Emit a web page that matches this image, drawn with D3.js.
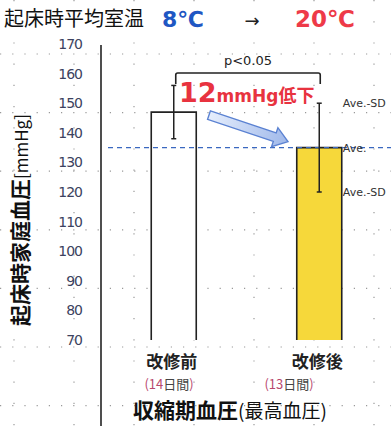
<!DOCTYPE html>
<html>
<head>
<meta charset="utf-8">
<script src="https://cdn.jsdelivr.net/npm/d3@7"></script>
<style>
  body { margin: 0; background: #fff; }
  text { font-family: "Noto Sans CJK JP", "Noto Sans", sans-serif; }
</style>
</head>
<body>
<div id="chart"></div>
<script>
// data
var groups = ["改修前", "改修後"];
var periodDays = ["14", "13"];
var means = [147, 135];
var sds = [9, 15];
var yTicks = [70, 80, 90, 100, 110, 120, 130, 140, 150, 160, 170];
var tempBefore = "8℃";
var tempAfter = "20℃";

function init() {
    var w = 391;
    var h = 426;

    var svg = d3.select("#chart")
                .append("svg")
                .attr("width", w)
                .attr("height", h);

    var y = d3.scaleLinear()
              .domain([70, 170])
              .range([340, 44]);

    var x = d3.scalePoint()
              .domain(groups)
              .range([101, 392])
              .padding(0.5);

    var barW = 45;

    // background paper grid (dotted)
    var grid = svg.append("g");
    for (var gx = 14; gx < w; gx += 60) {
        grid.append("line")
            .attr("x1", gx).attr("x2", gx)
            .attr("y1", 0).attr("y2", h)
            .style("stroke", "#999")
            .style("stroke-width", 1.2)
            .style("stroke-dasharray", "1.2,20");
    }
    for (var gy = 54; gy < h; gy += 58.6) {
        grid.append("line")
            .attr("x1", 0).attr("x2", w)
            .attr("y1", gy).attr("y2", gy)
            .style("stroke", "#999")
            .style("stroke-width", 1.2)
            .style("stroke-dasharray", "1.2,11");
    }

    // y axis
    var yAxis = d3.axisLeft(y)
                  .tickValues(yTicks)
                  .tickSize(0)
                  .tickPadding(19);
    var ag = svg.append("g")
                .attr("transform", "translate(101,0)")
                .call(yAxis);
    ag.select(".domain").remove();
    ag.selectAll("text")
      .style("font-family", "'DejaVu Sans', sans-serif")
      .style("font-size", "14px")
      .style("fill", "#3c4260")
      .style("letter-spacing", "-1px");

    svg.append("line")
       .attr("x1", 101).attr("x2", 101)
       .attr("y1", 45).attr("y2", h)
       .style("stroke", "#222")
       .style("stroke-width", 1.6);

    // bars (fill, then top and side edges)
    var barColors = ["#ffffff", "#f6d83a"];
    var bars = svg.selectAll("g.bar")
                  .data(means)
                  .enter()
                  .append("g");
    bars.append("rect")
        .attr("x", function(d, i) { return x(groups[i]) - barW / 2; })
        .attr("y", function(d) { return y(d); })
        .attr("width", barW)
        .attr("height", function(d) { return y(70) - y(d); })
        .style("fill", function(d, i) { return barColors[i]; });
    bars.append("path")
        .attr("d", function(d, i) {
            var l = x(groups[i]) - barW / 2, r = l + barW;
            return "M" + l + "," + y(70) + " L" + l + "," + y(d) +
                   " L" + r + "," + y(d) + " L" + r + "," + y(70);
        })
        .style("fill", "none")
        .style("stroke", "#222")
        .style("stroke-width", 1.6);

    // average dashed line
    svg.append("line")
       .attr("x1", 108).attr("x2", w)
       .attr("y1", y(means[1])).attr("y2", y(means[1]))
       .style("stroke", "#3a68c0")
       .style("stroke-width", 1.2)
       .style("stroke-dasharray", "5,4");

    // error bars
    var eb = svg.selectAll("g.err")
                .data(means)
                .enter()
                .append("g");
    eb.append("line")
      .attr("x1", function(d, i) { return x(groups[i]); })
      .attr("x2", function(d, i) { return x(groups[i]); })
      .attr("y1", function(d, i) { return y(d + sds[i]); })
      .attr("y2", function(d, i) { return y(d - sds[i]); })
      .style("stroke", "#222")
      .style("stroke-width", 1.5);
    [1, -1].forEach(function(s) {
        eb.append("line")
          .attr("x1", function(d, i) { return x(groups[i]) - 2.5; })
          .attr("x2", function(d, i) { return x(groups[i]) + 2.5; })
          .attr("y1", function(d, i) { return y(d + s * sds[i]); })
          .attr("y2", function(d, i) { return y(d + s * sds[i]); })
          .style("stroke", "#222")
          .style("stroke-width", 1.5);
    });

    // Ave labels
    var aveX = x(groups[1]) + barW / 2 + 1;
    var aveLabels = [["Ave.-SD", means[1] + sds[1]], ["Ave.", means[1]], ["Ave.-SD", means[1] - sds[1]]];
    svg.selectAll("text.ave")
       .data(aveLabels)
       .enter()
       .append("text")
       .attr("x", aveX)
       .attr("y", function(d) { return y(d[1]) + 4; })
       .text(function(d) { return d[0]; })
       .style("font-family", "'DejaVu Sans', sans-serif")
       .style("font-size", "11px")
       .style("fill", "#333");

    // significance bracket
    var bx1 = x(groups[0]) + 2, bx2 = x(groups[1]) + 1, by = 73;
    svg.append("path")
       .attr("d", "M" + bx1 + "," + (by + 11) + " L" + bx1 + "," + (by + 2) +
                  " Q" + bx1 + "," + by + " " + (bx1 + 2) + "," + by +
                  " L" + (bx2 - 2) + "," + by +
                  " Q" + bx2 + "," + by + " " + bx2 + "," + (by + 2) +
                  " L" + bx2 + "," + (by + 11))
       .style("fill", "none")
       .style("stroke", "#222")
       .style("stroke-width", 1.6);
    svg.append("text")
       .attr("x", (bx1 + bx2) / 2)
       .attr("y", 65)
       .attr("text-anchor", "middle")
       .text("p<0.05")
       .style("font-family", "'DejaVu Sans', sans-serif")
       .style("font-size", "13px")
       .style("fill", "#222");

    // difference label
    var diff = svg.append("text")
                  .attr("x", 179)
                  .attr("y", 102)
                  .style("fill", "#e8333f")
                  .style("font-weight", "bold");
    diff.append("tspan").text(means[0] - means[1]).style("font-size", "27px")
        .style("font-family", "'DejaVu Sans', sans-serif");
    diff.append("tspan").text("mmHg").style("font-size", "17px")
        .style("font-family", "'DejaVu Sans', sans-serif");
    diff.append("tspan").text("低下").style("font-size", "18px");

    // arrow
    var defs = svg.append("defs");
    var grad = defs.append("linearGradient")
                   .attr("id", "ag")
                   .attr("x1", "0").attr("y1", "0").attr("x2", "1").attr("y2", "0");
    grad.append("stop").attr("offset", "0").attr("stop-color", "#e6eefc");
    grad.append("stop").attr("offset", "1").attr("stop-color", "#9fb8ea");
    var ax0 = 209, ay0 = y(means[0]) + 3, ax1 = 288, ay1 = y(means[1]) - 6;
    var ang = Math.atan2(ay1 - ay0, ax1 - ax0) * 180 / Math.PI;
    var len = Math.sqrt((ax1 - ax0) * (ax1 - ax0) + (ay1 - ay0) * (ay1 - ay0));
    svg.append("path")
       .attr("transform", "translate(" + ax0 + "," + ay0 + ") rotate(" + ang + ")")
       .attr("d", "M0,-4.5 L" + (len - 14) + ",-4.5 L" + (len - 14) + ",-10 L" + len + ",0 L" +
                  (len - 14) + ",10 L" + (len - 14) + ",4.5 L0,4.5 Z")
       .style("fill", "url(#ag)")
       .style("stroke", "#5b82d2")
       .style("stroke-width", 1.4);

    // title row
    svg.append("text")
       .attr("x", 4).attr("y", 26)
       .text("起床時平均室温")
       .style("font-size", "20px")
       .style("fill", "#111");
    svg.append("text")
       .attr("x", 162).attr("y", 27)
       .text(tempBefore)
       .style("font-family", "'DejaVu Sans', sans-serif")
       .style("font-size", "22px")
       .style("font-weight", "bold")
       .style("fill", "#1f57c3");
    svg.append("text")
       .attr("x", 252).attr("y", 27)
       .attr("text-anchor", "middle")
       .text("→")
       .style("font-family", "'DejaVu Sans', sans-serif")
       .style("font-size", "18px")
       .style("fill", "#222");
    svg.append("text")
       .attr("x", 295).attr("y", 27)
       .text(tempAfter)
       .style("font-family", "'DejaVu Sans', sans-serif")
       .style("font-size", "23px")
       .style("font-weight", "bold")
       .style("fill", "#ee3a48");

    // y axis title
    var yt = svg.append("text")
                .attr("transform", "translate(28,220) rotate(-90)")
                .attr("text-anchor", "middle")
                .style("fill", "#111")
                .style("font-size", "21px");
    yt.append("tspan").text("起床時家庭血圧").style("font-weight", "bold");
    yt.append("tspan").text("[mmHg]").style("font-size", "17px");

    // category labels
    svg.selectAll("text.cat")
       .data(groups)
       .enter()
       .append("text")
       .attr("x", function(d) { return x(d) - 2; })
       .attr("y", 368)
       .attr("text-anchor", "middle")
       .text(function(d) { return d; })
       .style("font-size", "17px")
       .style("font-weight", "bold")
       .style("fill", "#222");

    var periodX = [169, 289];
    periodDays.forEach(function(d, i) {
        var t = svg.append("text")
                   .attr("x", periodX[i])
                   .attr("y", 389)
                   .attr("text-anchor", "middle")
                   .style("font-size", "13px");
        t.append("tspan").text("(" + d).style("fill", "#b8486e");
        t.append("tspan").text("日間").style("fill", "#444");
        t.append("tspan").text(")").style("fill", "#b8486e");
    });

    var xt = svg.append("text")
                .attr("x", 133).attr("y", 418)
                .style("fill", "#111");
    xt.append("tspan").text("収縮期血圧").style("font-size", "21px").style("font-weight", "bold");
    xt.append("tspan").text("(最高血圧)").style("font-size", "19px");
}

window.onload = init;
</script>
</body>
</html>
